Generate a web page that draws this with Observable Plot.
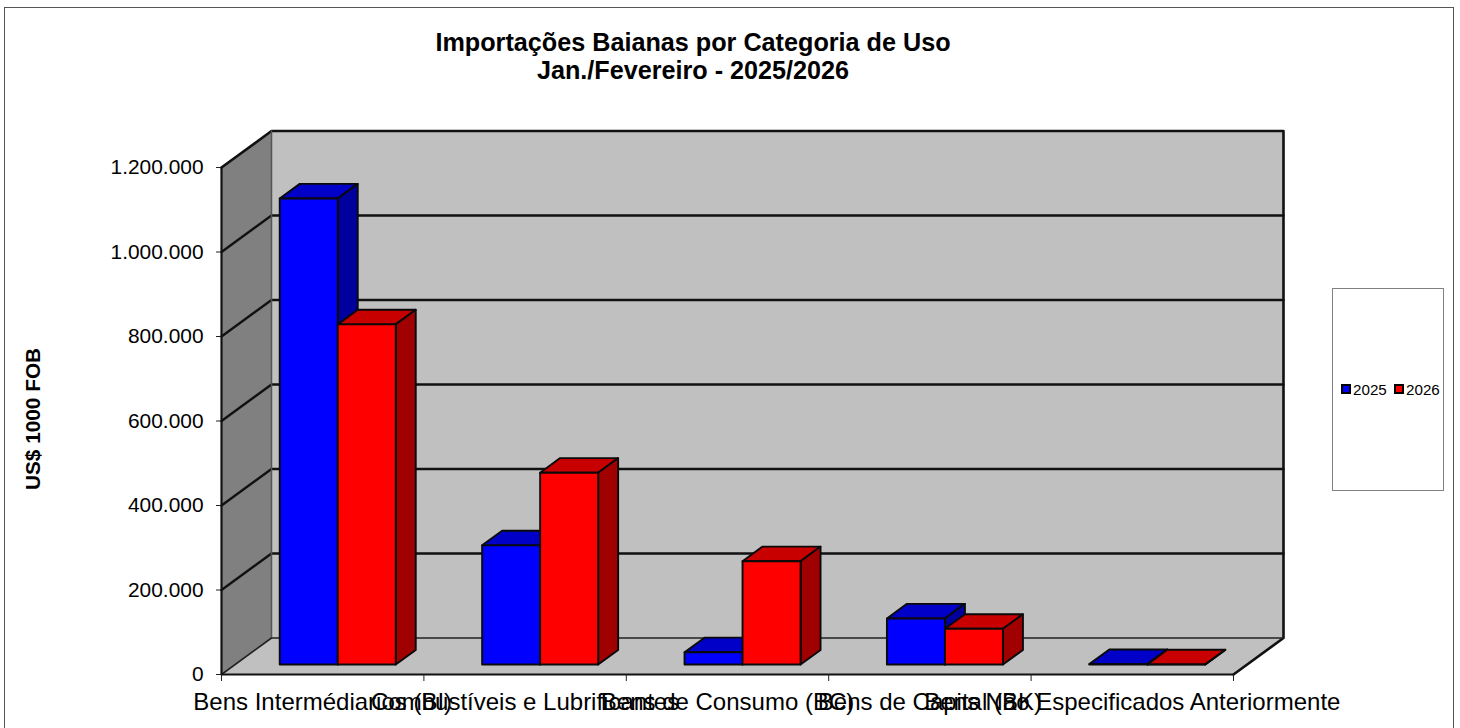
<!DOCTYPE html>
<html lang="pt">
<head>
<meta charset="utf-8">
<script src="https://cdn.jsdelivr.net/npm/d3@7"></script>
<script src="https://cdn.jsdelivr.net/npm/@observablehq/plot@0.6"></script>
<style>
  html, body { margin: 0; padding: 0; background: #fff; width: 1460px; height: 728px; overflow: hidden; }
  body { position: relative; font-family: "Liberation Sans", Arial, sans-serif; color: #000; }
  #border { position: absolute; left: 4px; top: 7px; width: 1448px; height: 740px; border: 1px solid #555; box-sizing: content-box; }
  #title { position: absolute; left: 4px; width: 1378px; top: 28px; text-align: center; font-weight: bold; font-size: 25.2px; line-height: 28px; }
  #ytitle { position: absolute; left: 33px; top: 419px; transform: translate(-50%, -50%) rotate(-90deg); font-weight: bold; font-size: 20.8px; white-space: nowrap; }
  #legend { position: absolute; left: 1332px; top: 288px; width: 110px; height: 201px; border: 1px solid #808080; background: #fff; display: flex; align-items: center; justify-content: flex-start; font-size: 15.2px; }
  #legend .sw { display: inline-block; width: 6px; height: 6px; border: 2px solid #000; margin-right: 2px; }
  #legend .it { display: inline-flex; align-items: center; position: absolute; margin-top: -1px; }
  #chart { position: absolute; left: 0; top: 0; }
  #chart svg { display: block; }
</style>
</head>
<body>
<div id="chart"></div>
<div id="border"></div>
<div id="title">Importações Baianas por Categoria de Uso<br>Jan./Fevereiro - 2025/2026</div>
<div id="ytitle">US$ 1000 FOB</div>
<div id="legend"></div>
<script>
const categories = [
  "Bens Intermédiarios (BI)",
  "Combustíveis e Lubrificantes",
  "Bens de Consumo (BC)",
  "Bens de Capital (BK)",
  "Bens Não Especificados Anteriormente"
];
const values2025 = [1103000, 282000, 29000, 109000, 900];
const values2026 = [805000, 454000, 244500, 84500, 300];
const yTicks = [0, 200000, 400000, 600000, 800000, 1000000, 1200000];
const series = ["2025", "2026"];
const frontColors = ["#0000ff", "#ff0000"];
const topColors = ["#0000c8", "#c80000"];
const sideColors = ["#00009e", "#a00000"];

// Oblique projection: a point at depth d (0 front wall, 1 back wall) is shifted in data units
const depthX = 0.247;      // categories per full depth
const depthY = 86400;      // value units per full depth
const barGap = 0.22, barW = 0.2866, barFront = 0.274, barBack = 0.674;
const P = (c, v, d) => ({x: c + d * depthX, y: v + d * depthY});

const faces = [];
let id = 0;
const addFace = (fill, pts) => {
  const z = id++;
  pts.forEach(p => faces.push({...p, z, fill}));
};
categories.forEach((_, i) => {
  [values2025[i], values2026[i]].forEach((v, s) => {
    const c0 = i + barGap + s * barW, c1 = c0 + barW;
    addFace(topColors[s], [P(c0, v, barFront), P(c1, v, barFront), P(c1, v, barBack), P(c0, v, barBack)]);
    addFace(sideColors[s], [P(c1, 0, barFront), P(c1, 0, barBack), P(c1, v, barBack), P(c1, v, barFront)]);
    addFace(frontColors[s], [P(c0, 0, barFront), P(c1, 0, barFront), P(c1, v, barFront), P(c0, v, barFront)]);
  });
});

const nCat = categories.length, yMax = yTicks[yTicks.length - 1];
const leftWall = [P(0, 0, 0), P(0, 0, 1), P(0, yMax, 1), P(0, yMax, 0)];
const backWall = [P(0, 0, 1), P(nCat, 0, 1), P(nCat, yMax, 1), P(0, yMax, 1)];
const floor = [P(0, 0, 0), P(0, 0, 1), P(nCat, 0, 1), P(nCat, 0, 0)];
const grid = yTicks.slice(1, -1).flatMap(v => [P(0, v, 0), P(0, v, 1), P(nCat, v, 1)].map(p => ({...p, z: v})));
const xy = {x: "x", y: "y"};
const fmt = d3.formatLocale({decimal: ",", thousands: ".", grouping: [3], currency: ["", ""]}).format(",d");

const chart = Plot.plot({
  width: 1460,
  height: 728,
  marginLeft: 221,
  marginRight: 177,
  marginTop: 130,
  marginBottom: 54,
  style: {fontFamily: "'Liberation Sans', Arial, sans-serif", background: "transparent", color: "#000", overflow: "visible"},
  x: {type: "linear", domain: [0, nCat], range: [221, 1233]},
  y: {type: "linear", domain: [0, yMax], range: [674, 167]},
  color: {type: "identity"},
  marks: [
    Plot.line(backWall, {...xy, curve: "linear-closed", fill: "#c0c0c0", stroke: "none"}),
    Plot.line(leftWall, {...xy, curve: "linear-closed", fill: "#808080", stroke: "none"}),
    Plot.line(floor, {...xy, curve: "linear-closed", fill: "#c0c0c0", stroke: "none"}),
    Plot.line(grid, {...xy, z: "z", stroke: "#111", strokeWidth: 2.4}),
    Plot.line([P(0, yMax, 0), P(0, yMax, 1), P(nCat, yMax, 1), P(nCat, 0, 1), P(nCat, 0, 0)], {...xy, stroke: "#111", strokeWidth: 2.6}),
    Plot.line([P(0, yMax, 1), P(0, 0, 1)], {...xy, stroke: "#555", strokeWidth: 1.5}),
    Plot.line([P(0, 0, 0), P(0, 0, 1), P(nCat, 0, 1)], {...xy, stroke: "#222", strokeWidth: 1.6}),
    Plot.line([P(0, 0, 0), P(0, yMax, 0)], {...xy, stroke: "#111", strokeWidth: 2.2}),
    Plot.line([P(0, 0, 0), P(nCat, 0, 0)], {...xy, stroke: "#111", strokeWidth: 2.2}),
    Plot.line(faces, {...xy, z: "z", fill: "fill", curve: "linear-closed", stroke: "#0a0a0a", strokeWidth: 1.9, strokeLinejoin: "round"}),
    Plot.axisY({ticks: yTicks, tickFormat: fmt, tickSize: 5, tickPadding: 13, fontSize: 20.9, label: null, anchor: "left", stroke: "#222"}),
    Plot.axisX({ticks: d3.range(nCat + 1), tickFormat: () => "", tickSize: 7, label: null, anchor: "bottom", stroke: "#222"}),
    Plot.axisX(categories.map((_, i) => i + 0.5), {tickSize: 0, tickPadding: 18, tickFormat: d => categories[d - 0.5], fontSize: 24, label: null, anchor: "bottom", textOverflow: null, lineWidth: Infinity})
  ]
});
document.getElementById("chart").append(chart);

const legend = document.getElementById("legend");
series.forEach((name, s) => {
  const it = document.createElement("span");
  it.className = "it";
  it.style.left = (s === 0 ? 8 : 61) + "px";
  const sw = document.createElement("span");
  sw.className = "sw";
  sw.style.background = frontColors[s];
  it.append(sw, document.createTextNode(name));
  legend.append(it);
});
</script>
</body>
</html>
